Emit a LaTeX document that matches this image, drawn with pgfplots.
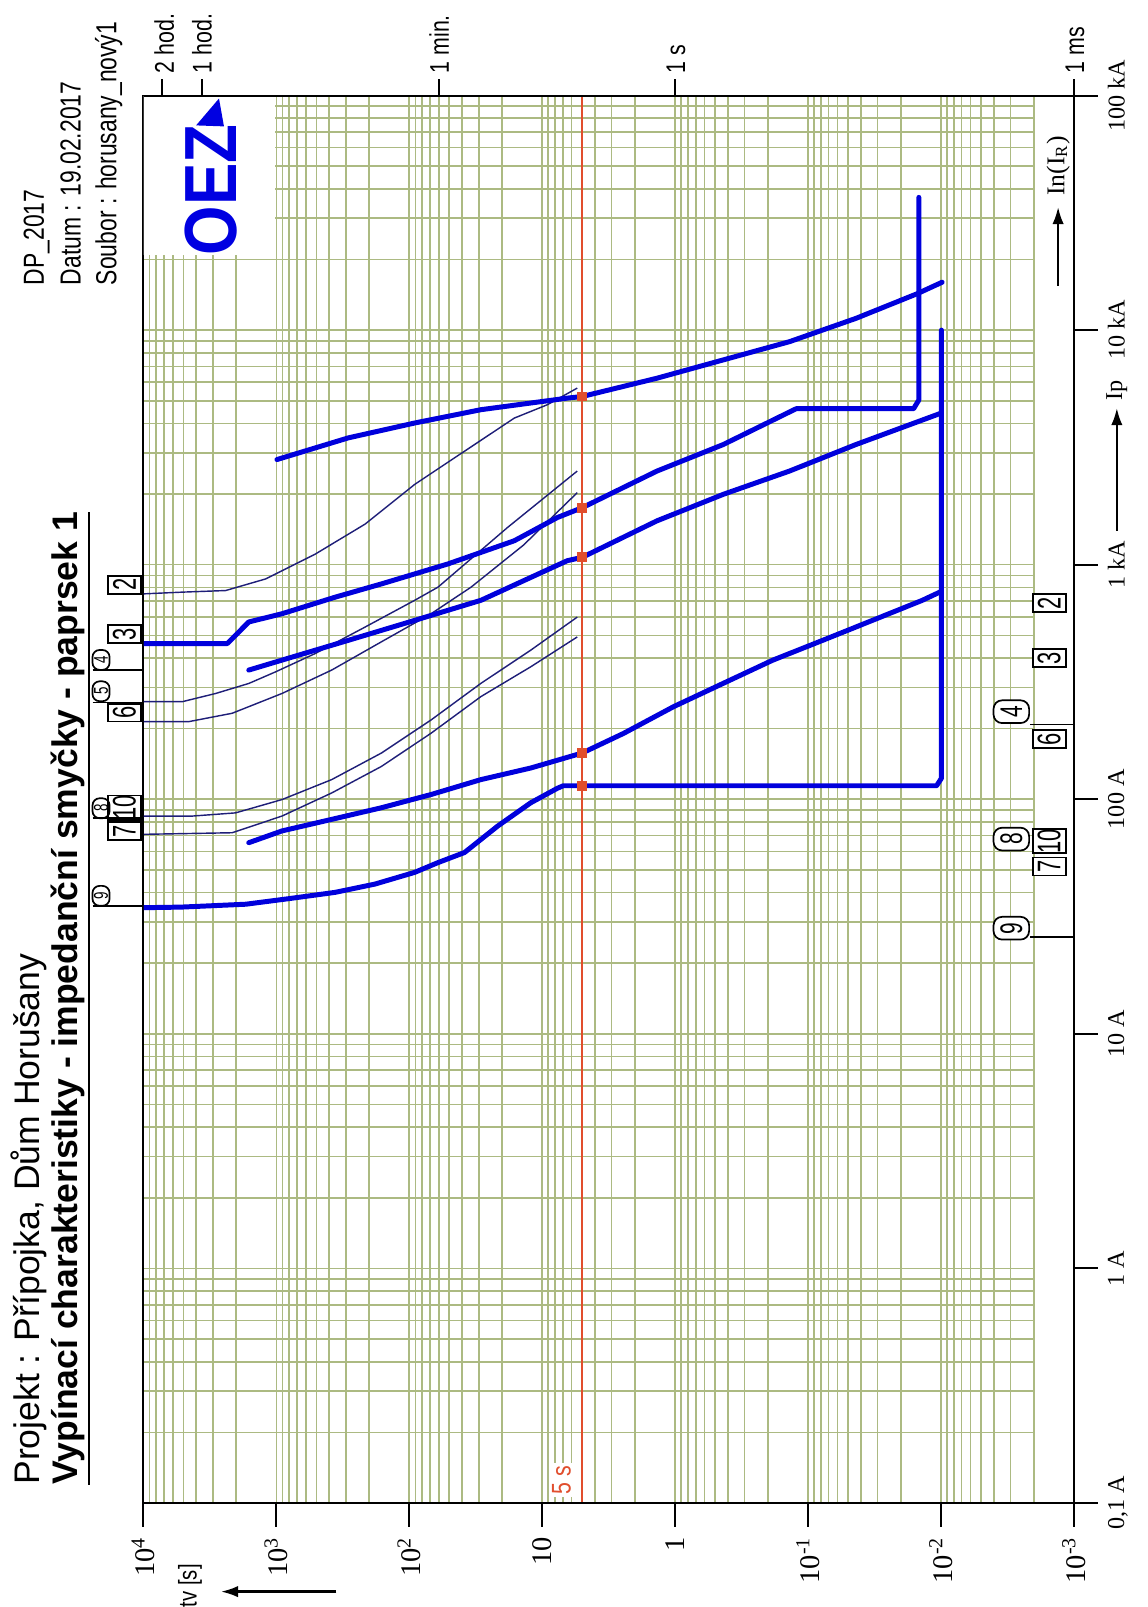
\documentclass[border=0pt]{standalone}
\usepackage{pgfplots}
\pgfplotsset{compat=1.18}
\usepackage{fontspec}
\setmainfont{Liberation Sans}
\newfontfamily\narrowfont{Liberation Sans}[FakeStretch=0.79]
\newfontfamily\titlefont{Liberation Sans}
\newfontfamily\boxfont{Liberation Sans}[FakeStretch=0.67]
\newfontfamily\logofont{Liberation Sans}[FakeStretch=0.86]
\newfontfamily\serifnum{Liberation Serif}
\usetikzlibrary{arrows.meta}
\definecolor{gridc}{RGB}{172,186,130}
\definecolor{cblue}{RGB}{0,0,220}
\definecolor{cnavy}{RGB}{30,30,120}
\definecolor{cred}{RGB}{225,78,45}
\definecolor{logob}{RGB}{0,0,225}
\tikzset{
  lb/.style={draw,line width=0.6pt,rotate=90,inner sep=0pt,fill=white,
    minimum width=6.3pt,minimum height=11.6pt,font=\boxfont\fontsize{11.5}{11.5}\selectfont},
  lr/.style={draw,line width=0.6pt,rotate=90,inner sep=0pt,fill=white,rounded corners=3pt,
    minimum width=8pt,minimum height=12.5pt,font=\boxfont\fontsize{11}{11}\selectfont},
  lrs/.style={draw,line width=0.6pt,rotate=90,inner sep=0pt,rounded corners=2.5pt,
    minimum width=7pt,minimum height=6pt,font=\boxfont\fontsize{7}{7}\selectfont},
  thick curve/.style={cblue,line width=1.75pt,line join=round,line cap=round},
  thin curve/.style={cnavy,line width=0.5pt,line join=round},
}
\begin{document}
\begin{tikzpicture}
\begin{scope}[shift={(-50.4pt,528.5pt)},x=0.35pt,y=-0.35pt]
\useasboundingbox (0,0) rectangle (1153,1607);
\end{scope}
\begin{axis}[
  at={(0pt,0pt)}, anchor=south west, scale only axis,
  width=327.25pt, height=494.9pt,
  xmode=log, ymode=log, x dir=reverse,
  xmin=1e-3, xmax=1e4, ymin=0.1, ymax=1e5,
  axis line style={line width=0.7pt},
  xtick={0.001,0.01,0.1,1,10,100,1000,10000},
  xticklabels={10\textsuperscript{-3},10\textsuperscript{-2},10\textsuperscript{-1},1,10,10\textsuperscript{2},10\textsuperscript{3},10\textsuperscript{4}},
  ytick={0.1,1,10,100,1000,10000,100000},
  yticklabels={{0,1 A},{1 A},{10 A},{100 A},{1 kA},{10 kA},{100 kA}},
  minor xtick={0.002,0.003,0.004,0.005,0.006,0.007,0.008,0.009,
    0.02,0.03,0.04,0.05,0.06,0.07,0.08,0.09,
    0.2,0.3,0.4,0.5,0.6,0.7,0.8,0.9,
    2,3,4,5,6,7,8,9,20,30,40,50,60,70,80,90,
    200,300,400,500,600,700,800,900,2000,3000,4000,5000,6000,7000,8000,9000},
  minor ytick={0.2,0.3,0.4,0.5,0.6,0.7,0.8,0.9,2,3,4,5,6,7,8,9,
    20,30,40,50,60,70,80,90,200,300,400,500,600,700,800,900,
    2000,3000,4000,5000,6000,7000,8000,9000,20000,30000,40000,50000,60000,70000,80000,90000},
  xtick pos=left, ytick pos=right,
  xticklabel pos=left, yticklabel pos=right,
  tick align=outside, major tick length=8.4pt, minor tick length=0pt,
  tick style={black,line width=0.7pt},
  grid=both,
  major grid style={gridc,line width=0.55pt},
  minor grid style={gridc,line width=0.55pt},
  xticklabel style={rotate=90,anchor=east,font=\serifnum\fontsize{10}{10}\selectfont},
  yticklabel style={rotate=90,anchor=north,font=\serifnum\fontsize{8.5}{9}\selectfont},
  clip=true,
]
% blank regions of the grid
\fill[white] (axis cs:0.001,0.1) rectangle (axis cs:0.00196,100000);
\fill[white] (axis cs:1030,21000) rectangle (axis cs:10000,100000);
% 5 s line
\addplot[cred,line width=0.8pt] coordinates {(5,0.1) (5,100000)};
% thin curves (cables)
\addplot[thin curve] coordinates {(10000,751) (5080,764) (2404,776) (1207,869) (510,1109) (215,1489) (91,2199) (38.4,3046) (16.2,4217) (9.14,4808) (5.45,5660)};
\addplot[thin curve] coordinates {(10000,260.7) (5080,260.7) (2857,282.5) (1610,311.7) (1016,349) (510,418) (215,542) (91,705) (60.8,802) (18.2,1442) (5.45,2507)};
\addplot[thin curve] coordinates {(10000,214.4) (4525,214.4) (2147,232.6) (906,282.5) (383,355.5) (162,469) (68.4,618) (34.3,802) (13.8,1213) (5.45,2028)};
\addplot[thin curve] coordinates {(10000,84.8) (4276,84.8) (2024,87.5) (906,99.7) (383,121.3) (162,157.4) (68.4,218) (28.9,312) (12.2,432) (5.45,598)};
\addplot[thin curve] coordinates {(10000,70.9) (2147,72.0) (906,84.8) (383,106.4) (162,138) (68.4,191.4) (28.9,274) (12.2,367) (5.45,492)};
% thick curves (protective devices)
\addplot[thick curve] coordinates {(10000,34.5) (5200,34.7) (1694,35.7) (807,37.7) (361,40.1) (181,43.5) (91,48.8) (60.8,53.7) (38.4,59.3) (21.6,76.9) (12.2,96.6) (7.69,111.4) (6.93,114.2) (0.0108,114.2) (0.00993,123) (0.00993,10000)};
\addplot[thick curve] coordinates {(1610,65.3) (906,73.3) (383,82.1) (162,92.0) (68.4,104.8) (28.9,121.3) (12.2,135.9) (5.0,157.5) (2.44,191) (1.03,248) (0.435,312) (0.184,392) (0.0776,476) (0.0328,579) (0.01384,705) (0.00993,770)};
\addplot[thick curve] coordinates {(1610,355.5) (906,392) (287,476) (91,579) (28.9,705) (6.48,1040) (5.0,1075) (1.37,1538) (0.435,1995) (0.138,2507) (0.0437,3252) (0.00993,4433)};
\addplot[thick curve] coordinates {(10000,461) (2339,461) (1610,570) (906,618) (361,727) (162,828) (51.3,1007) (16.2,1265) (7.69,1589) (5,1750) (1.37,2507) (0.435,3252) (0.123,4623) (0.0161,4623) (0.01469,5035) (0.01469,36800)};
\addplot[thick curve] coordinates {(988,2807) (287,3473) (91,4018) (28.9,4579) (6.48,5129) (5.0,5212) (1.37,6237) (0.435,7464) (0.138,8928) (0.0437,11220) (0.0151,14300) (0.00982,16000)};
% crossings with 5 s
\addplot[only marks,mark=square*,mark size=1.5pt,cred] coordinates {(5,5212) (5,1750) (5,1075) (5,157.5) (5,114.2)};
\draw[line width=0.7pt] (rel axis cs:0,0) rectangle (rel axis cs:1,1);
\end{axis}
\begin{scope}[shift={(-50.4pt,528.5pt)},x=0.35pt,y=-0.35pt]
% header
\node[rotate=90,anchor=base west,inner sep=0pt,font=\narrowfont\fontsize{10.2}{12}\selectfont] at (44,287) {DP\_2017};
\node[rotate=90,anchor=base west,inner sep=0pt,font=\narrowfont\fontsize{10.2}{12}\selectfont] at (81,287) {Datum : 19.02.2017};
\node[rotate=90,anchor=base west,inner sep=0pt,font=\narrowfont\fontsize{10.2}{12}\selectfont] at (117,287) {Soubor : horusany\_nový1};
% title
\node[rotate=90,anchor=base west,inner sep=0pt,font=\titlefont\fontsize{12.5}{14}\selectfont] at (40,1492) {Projekt : Přípojka, Dům Horušany};
\node[rotate=90,anchor=base west,inner sep=0pt,font=\titlefont\bfseries\fontsize{12.5}{14}\selectfont] at (78,1492) {\underline{Vypínací charakteristiky - impedanční smyčky - paprsek 1}};
% top time marks
\draw[line width=0.7pt] (163,96)--(163,79) (203,96)--(203,79) (441,96)--(441,79) (678,96)--(678,79) (1079,96)--(1079,79);
\foreach \xx/\tt in {165/2 hod., 203/1 hod., 441/1 min., 679/1 s, 1080/1 ms}
  \node[rotate=90,anchor=west,inner sep=1pt,font=\narrowfont\fontsize{9.5}{10}\selectfont] at (\xx,77) {\tt};
% logo
\node[rotate=90,anchor=base west,inner sep=0pt,text=logob,font=\logofont\bfseries\fontsize{26}{26}\selectfont] at (238,257) {OEZ};
\fill[logob] (197,126) -- (225,127) -- (220,99) -- cycle;
% In(IR)
\draw[-{Latex[length=6pt,width=4pt]},line width=0.8pt] (1063,287) -- (1063,208);
\node[rotate=90,anchor=west,inner sep=1pt,font=\serifnum\fontsize{9}{10}\selectfont] at (1063,200) {In(I\textsubscript{R})};
% Ip
\draw[-{Latex[length=6pt,width=4pt]},line width=0.8pt] (1122,533) -- (1122,410);
\node[rotate=90,anchor=west,inner sep=1pt,font=\serifnum\fontsize{8.5}{9}\selectfont] at (1122,406) {Ip};
% tv [s]
\node[rotate=90,inner sep=0pt,font=\narrowfont\fontsize{9}{10}\selectfont] at (191,1593) {tv [s]};
\draw[-{Latex[length=6pt,width=4pt]},line width=0.8pt] (338,1599) -- (222,1599);
% 5 s label
\node[rotate=90,anchor=west,fill=white,inner sep=1pt,text=cred,font=\narrowfont\fontsize{9.5}{10}\selectfont] at (564,1505) {5 s};
% top labels
\node[lb] at (125,587.5) {2};
\node[lb] at (125,637) {3};
\node[lb] at (125,716) {6};
\node[lb] at (125,811.5) {10};
\node[lb] at (125,835) {7};
\draw[line width=0.6pt] (93,673.3)--(144,673.3) (93,705.7)--(144,705.7) (93,821.7)--(144,821.7) (93,910)--(144,910);
\node[lrs] at (101.5,663) {4};
\node[lrs] at (101.5,694.5) {5};
\node[lrs] at (101.5,812) {8};
\node[lrs] at (101.5,900) {9};
% bottom labels
\draw[line width=0.6pt] (1035,728)--(1079,728) (1035,941.7)--(1079,941.7);
\node[lb] at (1054,606) {2};
\node[lb] at (1054,661) {3};
\node[lb] at (1054,742.5) {6};
\node[lb] at (1054,845) {10};
\node[lb] at (1054,870.5) {7};
\node[lr] at (1016,715) {4};
\node[lr] at (1016,843) {8};
\node[lr] at (1016,932.5) {9};
\end{scope}
\end{tikzpicture}
\end{document}
